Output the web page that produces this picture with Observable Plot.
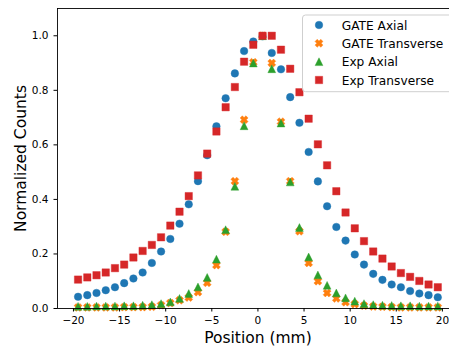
<!DOCTYPE html>
<html><head><meta charset="utf-8">
<script src="https://cdn.jsdelivr.net/npm/d3@7"></script>
<script src="https://cdn.jsdelivr.net/npm/@observablehq/plot@0.6"></script>
<style>
html,body{margin:0;padding:0;background:#fff;overflow:hidden;}
#chart{position:relative;width:449px;height:348px;}
</style></head><body><div id="chart"></div>
<script>
const positions = [-19.5,-18.5,-17.5,-16.5,-15.5,-14.5,-13.5,-12.5,-11.5,-10.5,-9.5,-8.5,-7.5,-6.5,-5.5,-4.5,-3.5,-2.5,-1.5,-0.5,
  0.5,1.5,2.5,3.5,4.5,5.5,6.5,7.5,8.5,9.5,10.5,11.5,12.5,13.5,14.5,15.5,16.5,17.5,18.5,19.5];
const gateAxial = [0.043,0.049,0.057,0.067,0.078,0.093,0.110,0.132,0.167,0.209,0.255,0.311,0.382,0.467,0.562,0.668,0.771,0.862,0.944,0.979,
  0.998,0.937,0.877,0.775,0.681,0.574,0.466,0.375,0.299,0.249,0.198,0.161,0.127,0.105,0.088,0.078,0.064,0.055,0.049,0.041];
const gateTransverse = [0.004,0.004,0.004,0.004,0.004,0.005,0.005,0.005,0.006,0.012,0.020,0.030,0.040,0.060,0.094,0.159,0.281,0.467,0.692,0.903,
  1.000,0.900,0.685,0.467,0.283,0.167,0.100,0.057,0.037,0.023,0.016,0.010,0.007,0.006,0.005,0.004,0.004,0.004,0.004,0.004];
const expAxial = [0.008,0.008,0.009,0.009,0.009,0.010,0.010,0.012,0.014,0.018,0.024,0.037,0.055,0.079,0.114,0.181,0.289,0.448,0.670,0.900,
  1.000,0.879,0.680,0.464,0.297,0.189,0.123,0.085,0.057,0.039,0.027,0.018,0.014,0.012,0.011,0.010,0.010,0.009,0.009,0.009];
const expTransverse = [0.106,0.114,0.122,0.132,0.148,0.161,0.187,0.211,0.233,0.261,0.304,0.355,0.412,0.488,0.568,0.649,0.738,0.812,0.905,0.967,
  1.000,1.000,0.949,0.879,0.793,0.696,0.602,0.525,0.430,0.352,0.294,0.247,0.209,0.183,0.154,0.130,0.116,0.101,0.088,0.078];
const seriesNames = ["GATE Axial","GATE Transverse","Exp Axial","Exp Transverse"];
const seriesColors = ["#1f77b4","#ff7f0e","#2ca02c","#d62728"];
const xTicks = [-20,-15,-10,-5,0,5,10,15,20];
const yTicks = [0,0.2,0.4,0.6,0.8,1.0];
const xLabel = "Position (mm)";
const yLabel = "Normalized Counts";

const seriesValues = [gateAxial, gateTransverse, expAxial, expTransverse];
const rows = [];
seriesNames.forEach((name, i) => positions.forEach((p, j) => rows.push({series: name, pos: p, value: seriesValues[i][j]})));

const rOf = size => Math.sqrt(size / Math.PI);
const symCircle = {draw(c, size){const r = rOf(size); c.moveTo(r, 0); c.arc(0, 0, r, 0, 2*Math.PI);}};
const symSquare = {draw(c, size){const h = rOf(size); c.moveTo(-h,-h); c.lineTo(h,-h); c.lineTo(h,h); c.lineTo(-h,h); c.closePath();}};
const symTriangle = {draw(c, size){const h = rOf(size); c.moveTo(0,-h); c.lineTo(h,h); c.lineTo(-h,h); c.closePath();}};
const symX = {draw(c, size){const h = rOf(size), w = h*0.55;
  const pts = [[0,-w],[h-w,-h],[h,-h+w],[w,0],[h,h-w],[h-w,h],[0,w],[-h+w,h],[-h,h-w],[-w,0],[-h,-h+w],[-h+w,-h]];
  c.moveTo(pts[0][0], pts[0][1]); for (let k = 1; k < pts.length; k++) c.lineTo(pts[k][0], pts[k][1]); c.closePath();}};
const seriesSymbols = [symCircle, symX, symTriangle, symSquare];
const seriesR = [3.8, 4.0, 3.9, 3.7];

const xMin = -21.73, xMax = 20.77, yMax = 1.1;

const plot = Plot.plot({
  width: 449, height: 348,
  marginLeft: 57, marginRight: 0, marginTop: 8, marginBottom: 40,
  style: {fontFamily: "DejaVu Sans", color: "#000", background: "#fff", overflow: "visible"},
  x: {domain: [xMin, xMax], label: null},
  y: {domain: [0, yMax], label: null},
  marks: [
    ...seriesNames.map((name, i) => Plot.dot(rows.filter(d => d.series === name), {
      x: "pos", y: "value", fill: seriesColors[i], stroke: seriesColors[i], strokeWidth: 0.4,
      symbol: seriesSymbols[i], r: seriesR[i]
    })),
    Plot.ruleY([0], {stroke: "#000", strokeWidth: 0.9}),
    Plot.ruleY([yMax], {stroke: "#000", strokeWidth: 0.9}),
    Plot.ruleX([xMin], {stroke: "#000", strokeWidth: 0.9}),
    Plot.axisX({ticks: xTicks, tickSize: 3.5, tickPadding: 5, fontSize: 10.5, label: null, stroke: "#000"}),
    Plot.axisY({ticks: yTicks, tickFormat: d3.format(".1f"), tickSize: 3.5, tickPadding: 5.5, fontSize: 10.5, label: null, stroke: "#000"}),
    Plot.text([xLabel], {x: () => 0, frameAnchor: "bottom", lineAnchor: "middle", textAnchor: "middle", dy: 30, fontSize: 15.5, text: d => d}),
    Plot.text([yLabel], {frameAnchor: "left", lineAnchor: "middle", textAnchor: "middle", rotate: -90, dx: -36.7, fontSize: 15.5, text: d => d})
  ]
});
document.getElementById("chart").appendChild(plot);

// legend
const svg = d3.select(plot);
const lg = svg.append("g").attr("font-family", "DejaVu Sans").attr("text-anchor", "start");
lg.append("rect").attr("x", 302.5).attr("y", 15).attr("width", 170).attr("height", 76.7)
  .attr("rx", 3).attr("fill", "#fff").attr("fill-opacity", 0.8).attr("stroke", "#cfcfcf").attr("stroke-width", 1);
const rowY = [25, 43.3, 61.7, 80];
seriesNames.forEach((name, i) => {
  const sz = Math.PI * seriesR[i] * seriesR[i];
  lg.append("path").attr("d", d3.symbol(seriesSymbols[i], sz)())
    .attr("transform", `translate(319,${rowY[i]})`)
    .attr("fill", seriesColors[i]).attr("stroke", seriesColors[i]).attr("stroke-width", 0.4);
  lg.append("text").attr("x", 341.7).attr("y", rowY[i] + 4.6).attr("font-size", 12.2)
    .attr("text-anchor", "start").attr("fill", "#000").text(name);
});
</script></body></html>
